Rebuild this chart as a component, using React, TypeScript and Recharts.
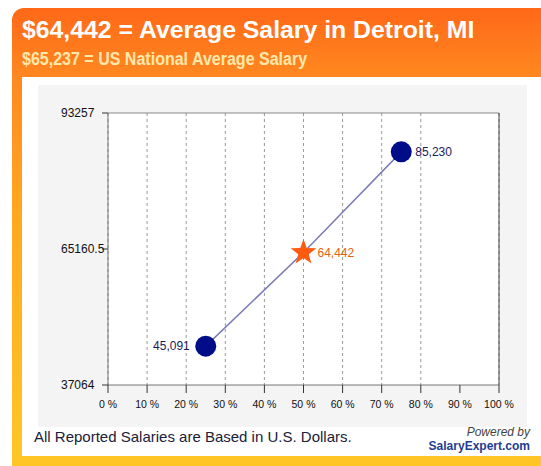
import { LineChart, Line, XAxis, YAxis, CartesianGrid, ReferenceLine, LabelList } from "recharts";

// Percentile positions and salaries
const percentiles = [25, 50, 75];
const salaries = [45091, 64442, 85230];
const yTicks = [37064, 65160.5, 93257];
const xTicks = [0, 10, 20, 30, 40, 50, 60, 70, 80, 90, 100];

const chartData = percentiles.map((pct, i) => ({ pct, salary: salaries[i] }));

const FONT = '"Liberation Sans", Arial, sans-serif';
const NAVY = "#000c88";
const ORANGE = "#ff5a12";

const starPath = (cx: number, cy: number, outer: number, inner: number) => {
  const pts: string[] = [];
  for (let i = 0; i < 10; i++) {
    const r = i % 2 === 0 ? outer : inner;
    const a = -Math.PI / 2 + (i * Math.PI) / 5;
    pts.push(`${cx + r * Math.cos(a)},${cy + r * Math.sin(a)}`);
  }
  return `M${pts.join("L")}Z`;
};

const SalaryDot = (props: any) => {
  const { cx, cy, index } = props;
  if (index === 1) {
    return <path key={`d-${index}`} d={starPath(cx, cy, 13.5, 5.5)} fill={ORANGE} />;
  }
  return <circle key={`d-${index}`} cx={cx} cy={cy} r={10.5} fill={NAVY} />;
};

const SalaryLabel = (props: any) => {
  const { x, y, index, value } = props;
  const left = index === 0;
  return (
    <text
      x={left ? x - 16 : x + 14}
      y={y}
      dy="0.35em"
      textAnchor={left ? "end" : "start"}
      fontSize={12}
      fontFamily={FONT}
      fill={index === 1 ? "#e0620e" : "#1a1a60"}
    >
      {Number(value).toLocaleString("en-US")}
    </text>
  );
};

const YTick = (props: any) => {
  const { y, payload } = props;
  return (
    <text x={23} y={y} dy="0.35em" textAnchor="start" fontSize={12} fontFamily={FONT} fill="#111">
      {payload.value}
    </text>
  );
};

const App = () => {
  return (
    <div style={{ position: "absolute", left: 0, top: 0, width: 541, height: 466, background: "#fff", overflow: "hidden", fontFamily: FONT }}>
      {/* orange / yellow frame */}
      <div
        style={{
          position: "absolute",
          left: 12,
          top: 8,
          width: 540,
          height: 458,
          borderTopLeftRadius: 12,
          background: "linear-gradient(to bottom, #ff6818 0%, #ff8a20 16%, #ffa820 45%, #ffc626 100%)",
        }}
      />
      <div style={{ position: "absolute", left: 22, top: 77, width: 530, height: 379, background: "#fff" }} />

      <div style={{ position: "absolute", left: 22, top: 16, fontSize: 24.8, fontWeight: "bold", color: "#fff", whiteSpace: "nowrap" }}>
        $64,442 = Average Salary in Detroit, MI
      </div>
      <div
        style={{
          position: "absolute",
          left: 22,
          top: 49,
          fontSize: 18,
          fontWeight: "bold",
          color: "#ffe8ac",
          whiteSpace: "nowrap",
          transform: "scaleX(0.89)",
          transformOrigin: "left top",
        }}
      >
        $65,237 = US National Average Salary
      </div>

      <div style={{ position: "absolute", left: 38, top: 85, width: 489, height: 342, background: "#f4f4f4" }}>
        <LineChart width={489} height={342} data={chartData} margin={{ top: 28, right: 28, left: 0, bottom: 0 }}>
          <CartesianGrid horizontal={false} stroke="#9a9a9a" strokeDasharray="3 3" fill="#fff" />
          <XAxis
            type="number"
            dataKey="pct"
            domain={[0, 100]}
            ticks={xTicks}
            tickFormatter={(v: number) => `${v} %`}
            height={42}
            tickSize={8}
            tickMargin={8}
            axisLine={{ stroke: "#777" }}
            tickLine={{ stroke: "#333" }}
            tick={{ fontSize: 10.5, fill: "#111", fontFamily: FONT }}
          />
          <YAxis
            type="number"
            domain={[37064, 93257]}
            ticks={yTicks}
            width={70}
            tickSize={6}
            axisLine={{ stroke: "#777" }}
            tickLine={{ stroke: "#333" }}
            tick={<YTick />}
          />
          <ReferenceLine y={93257} stroke="#888" />
          <ReferenceLine x={100} stroke="#444" />
          <Line
            type="linear"
            dataKey="salary"
            stroke="#7b7bb8"
            strokeWidth={1.5}
            dot={<SalaryDot />}
            activeDot={false}
            isAnimationActive={false}
          >
            <LabelList dataKey="salary" content={<SalaryLabel />} />
          </Line>
        </LineChart>
      </div>

      <div style={{ position: "absolute", left: 34, top: 428, fontSize: 15, color: "#20203a", whiteSpace: "nowrap" }}>
        All Reported Salaries are Based in U.S. Dollars.
      </div>
      <div style={{ position: "absolute", right: 11, top: 425, fontSize: 12, fontStyle: "italic", color: "#444", whiteSpace: "nowrap" }}>
        Powered by
      </div>
      <div style={{ position: "absolute", right: 11, top: 439, fontSize: 12, fontWeight: "bold", color: "#1f3c8f", whiteSpace: "nowrap" }}>
        SalaryExpert.com
      </div>
    </div>
  );
};

export default App;
